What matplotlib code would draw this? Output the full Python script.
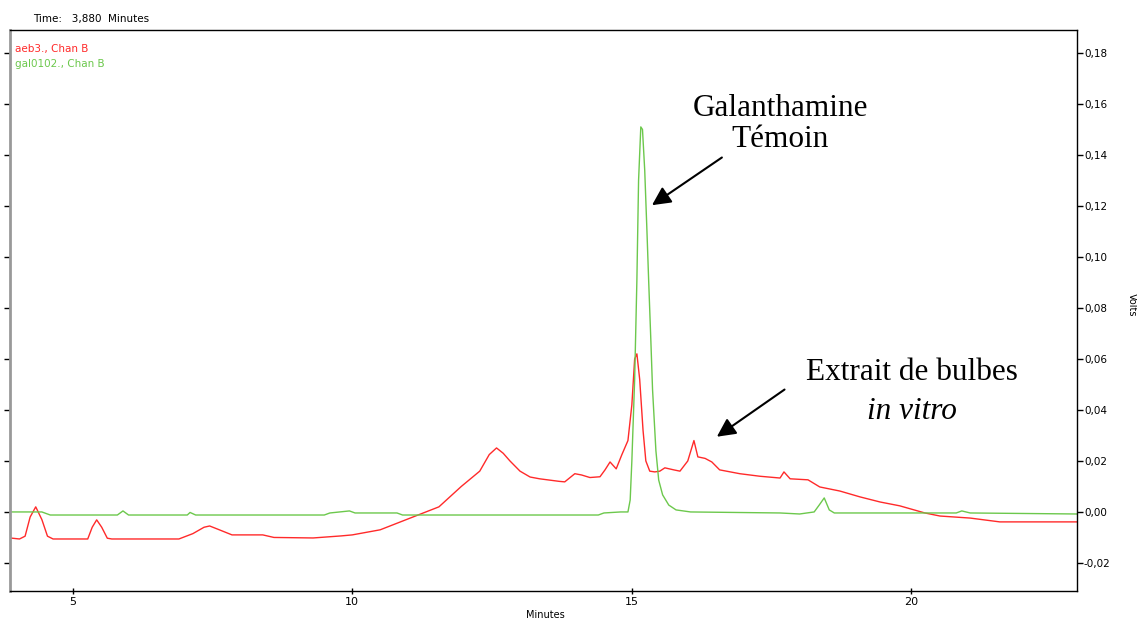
import numpy as np
import matplotlib.pyplot as plt
from matplotlib.ticker import FuncFormatter

# retention time (min) / signal (Volts)
red_t = [3.88, 4.05, 4.15, 4.24, 4.34, 4.45, 4.55, 4.65, 5.27, 5.35, 5.43, 5.52,
         5.62, 5.70, 6.90, 7.15, 7.35, 7.45, 7.60, 7.85, 8.40, 8.60, 9.30, 9.80,
         10.0, 10.5, 10.85, 11.2, 11.55, 11.75, 11.95, 12.28, 12.45, 12.58, 12.7,
         12.82, 13.0, 13.18, 13.35, 13.7, 13.8, 13.98, 14.1, 14.25, 14.43, 14.52,
         14.61, 14.72, 14.82, 14.93, 15.0, 15.05, 15.09, 15.14, 15.2, 15.25, 15.32,
         15.41, 15.5, 15.59, 15.75, 15.86, 16.0, 16.11, 16.18, 16.31, 16.43, 16.57,
         16.93, 17.29, 17.65, 17.72, 17.83, 18.15, 18.36, 18.72, 19.08, 19.44,
         19.79, 20.24, 20.51, 21.05, 21.58, 21.94, 22.96]
red_v = [-0.0102, -0.0106, -0.0095, -0.002, 0.002, -0.003, -0.0095, -0.0106,
         -0.0106, -0.006, -0.0031, -0.006, -0.0103, -0.0106, -0.0106, -0.0085,
         -0.006, -0.0055, -0.0068, -0.009, -0.009, -0.010, -0.0102, -0.0094,
         -0.009, -0.007, -0.004, -0.001, 0.002, 0.006, 0.010, 0.016, 0.0225,
         0.0251, 0.023, 0.020, 0.016, 0.0137, 0.013, 0.012, 0.0118, 0.015, 0.0145,
         0.0135, 0.0138, 0.0165, 0.0196, 0.0169, 0.0224, 0.028, 0.042, 0.060,
         0.062, 0.052, 0.032, 0.020, 0.016, 0.0157, 0.016, 0.0173, 0.0165, 0.016,
         0.020, 0.028, 0.0216, 0.021, 0.0196, 0.0165, 0.015, 0.014, 0.0133,
         0.0157, 0.013, 0.0126, 0.0098, 0.0082, 0.0059, 0.0039, 0.0024, -0.0004,
         -0.0016, -0.0024, -0.0039, -0.0039, -0.0039]

green_t = [3.88, 4.45, 4.6, 5.8, 5.9, 6.0, 7.05, 7.1, 7.2, 9.5, 9.6, 9.95, 10.05,
           10.8, 10.9, 14.4, 14.5, 14.8, 14.93, 14.97, 15.0, 15.05, 15.09, 15.12,
           15.16, 15.19, 15.23, 15.27, 15.3, 15.34, 15.37, 15.43, 15.48, 15.55,
           15.66, 15.79, 16.05, 17.65, 18.0, 18.26, 18.35, 18.44, 18.53, 18.62,
           20.8, 20.9, 21.05, 22.96]
green_v = [0.0, 0.0, -0.0012, -0.0012, 0.0004, -0.0012, -0.0012, -0.0002, -0.0012,
           -0.0012, -0.0004, 0.0004, -0.0004, -0.0004, -0.0012, -0.0012, -0.0004,
           0.0, 0.0, 0.0047, 0.020, 0.052, 0.091, 0.130, 0.151, 0.150, 0.134,
           0.110, 0.091, 0.067, 0.048, 0.024, 0.0125, 0.0067, 0.0027, 0.0008, 0.0,
           -0.0004, -0.0008, 0.0, 0.0027, 0.0055, 0.0008, -0.0004, -0.0004, 0.0004,
           -0.0004, -0.0008]

x_ticks = [5, 10, 15, 20]
y_ticks = [-0.02, 0.0, 0.02, 0.04, 0.06, 0.08, 0.10, 0.12, 0.14, 0.16, 0.18]

red = '#ff2a2a'
green = '#6cc84c'

fig = plt.figure(figsize=(11.37, 6.19), dpi=100)
ax = fig.add_axes([10 / 1137, 1 - 591 / 619, 1067 / 1137, 561 / 619])

ax.plot(red_t, red_v, color=red, lw=1.0)
ax.plot(green_t, green_v, color=green, lw=1.0)

ax.set_xlim(3.88, 22.96)
ax.set_ylim(-0.031, 0.189)
ax.set_xticks(x_ticks)
ax.set_yticks(y_ticks)


def fmt(v, pos):
    return f'{v:.2f}'.replace('.', ',')


ax.yaxis.set_major_formatter(FuncFormatter(fmt))
ax.tick_params(axis='y', left=True, right=True, labelleft=False, labelright=True,
               direction='out', length=4, width=1, labelsize=7.5, pad=1)
ax.tick_params(axis='x', direction='inout', length=5, width=1, labelsize=8, pad=2)
for s in ['top', 'right', 'bottom']:
    ax.spines[s].set_linewidth(1.0)
ax.spines['left'].set_color('#999999')
ax.spines['left'].set_linewidth(2)

ax.set_xlabel('Minutes', fontsize=7, labelpad=1)
ax.xaxis.set_label_coords((545 - 10) / 1067, -0.033)

fig.text(33 / 1137, 1 - 19 / 619, 'Time:   3,880  Minutes', fontsize=7.5, va='center')
ax.text(0.005, 0.975, 'aeb3., Chan B', color=red, fontsize=7.5, transform=ax.transAxes,
        va='top')
ax.text(0.005, 0.948, 'gal0102., Chan B', color=green, fontsize=7.5,
        transform=ax.transAxes, va='top')
fig.text(1127 / 1137, 1 - 305 / 619, 'Volts', fontsize=7, rotation=-90, va='center')

serif = 'Liberation Serif'
arrow = dict(arrowstyle='-|>', color='black', lw=1.5, mutation_scale=28,
             shrinkA=0, shrinkB=0)
ax.text(17.65, 0.152, 'Galanthamine\nTémoin', ha='center', va='center',
        fontsize=22.5, family=serif, linespacing=1.1)
ax.annotate('', xy=(15.36, 0.1203), xytext=(16.61, 0.139), arrowprops=arrow)
ax.annotate('', xy=(16.52, 0.0295), xytext=(17.73, 0.048), arrowprops=arrow)
ax.text(20.0, 0.0545, 'Extrait de bulbes', ha='center', va='center', fontsize=22.5,
        family=serif)
ax.text(20.0, 0.0395, 'in vitro', ha='center', va='center', fontsize=22.5,
        family=serif, style='italic')

fig.savefig('out.png', dpi=100)
